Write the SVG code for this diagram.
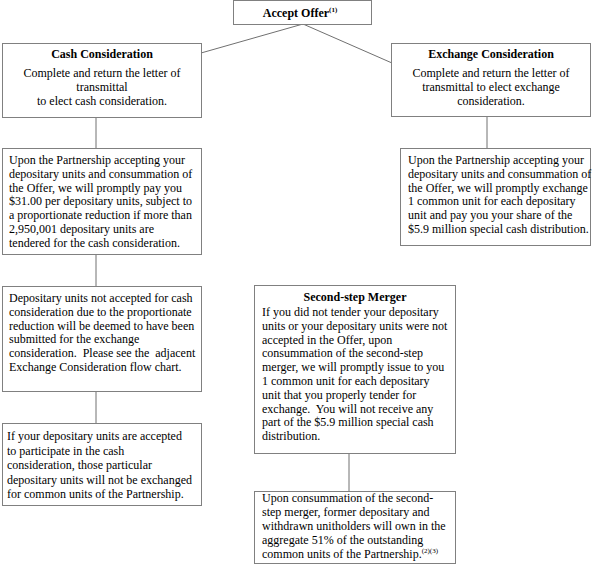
<svg xmlns="http://www.w3.org/2000/svg" width="593" height="572" viewBox="0 0 593 572">
<style>
.box{fill:#fff;stroke:#808080;stroke-width:1}
.ln{stroke:#707070;stroke-width:1;fill:none}
text{font-family:"Liberation Serif","Times New Roman",serif;font-size:12px;fill:#000}
.b{font-weight:bold}
.c{text-anchor:middle}
.sup{font-size:7px}
</style>
<rect width="593" height="572" fill="#fff"/>
<g id="connectors">
<line class="ln" x1="303" y1="24" x2="201" y2="53"/>
<line class="ln" x1="303" y1="24" x2="392" y2="63"/>
<line class="ln" x1="96" y1="117" x2="96" y2="148"/>
<line class="ln" x1="96" y1="254" x2="96" y2="286"/>
<line class="ln" x1="96" y1="391" x2="96" y2="423"/>
<line class="ln" x1="487" y1="116" x2="487" y2="148"/>
<line class="ln" x1="349" y1="453" x2="349" y2="491"/>
</g>
<g id="accept">
<rect class="box" x="233.5" y="0.5" width="138" height="24"/>
<text class="b c" x="300" y="17">Accept Offer<tspan class="sup" dy="-5">(1)</tspan></text>
</g>
<g id="cash">
<rect class="box" x="2.5" y="43.5" width="199" height="74"/>
<text class="b c" x="102" y="58">Cash Consideration</text>
<text class="c" x="102" y="77">Complete and return the letter of</text>
<text class="c" x="102" y="91">transmittal</text>
<text class="c" x="102" y="104.5">to elect cash consideration.</text>
</g>
<g id="exchange">
<rect class="box" x="391.5" y="43.5" width="199" height="73"/>
<text class="b c" x="491" y="58">Exchange Consideration</text>
<text class="c" x="491" y="77">Complete and return the letter of</text>
<text class="c" x="491" y="91">transmittal to elect exchange</text>
<text class="c" x="491" y="104.5">consideration.</text>
</g>
<g id="cash-pay">
<rect class="box" x="2.5" y="148.5" width="199" height="106"/>
<text x="9" y="164">Upon the Partnership accepting your</text>
<text x="9" y="177.8">depositary units and consummation of</text>
<text x="9" y="191.6">the Offer, we will promptly pay you</text>
<text x="9" y="205.4">$31.00 per depositary units, subject to</text>
<text x="9" y="219.2">a proportionate reduction if more than</text>
<text x="9" y="233">2,950,001 depositary units are</text>
<text x="9" y="246.8">tendered for the cash consideration.</text>
</g>
<g id="exchange-pay">
<rect class="box" x="400.5" y="148.5" width="190" height="97"/>
<text x="408" y="164">Upon the Partnership accepting your</text>
<text x="408" y="177.8">depositary units and consummation of</text>
<text x="408" y="191.6">the Offer, we will promptly exchange</text>
<text x="408" y="205.4">1 common unit for each depositary</text>
<text x="408" y="219.2">unit and pay you your share of the</text>
<text x="408" y="233">$5.9 million special cash distribution.</text>
</g>
<g id="not-accepted">
<rect class="box" x="2.5" y="286.5" width="199" height="105"/>
<text x="9" y="302">Depositary units not accepted for cash</text>
<text x="9" y="315.8">consideration due to the proportionate</text>
<text x="9" y="329.6">reduction will be deemed to have been</text>
<text x="9" y="343.4">submitted for the exchange</text>
<text x="9" y="357.2" xml:space="preserve">consideration.  Please see the  adjacent</text>
<text x="9" y="371">Exchange Consideration flow chart.</text>
</g>
<g id="accepted">
<rect class="box" x="2.5" y="423.5" width="199" height="82"/>
<text x="7" y="440">If your depositary units are accepted</text>
<text x="7" y="454.5">to participate in the cash</text>
<text x="7" y="469">consideration, those particular</text>
<text x="7" y="483.5">depositary units will not be exchanged</text>
<text x="7" y="498">for common units of the Partnership.</text>
</g>
<g id="merger">
<rect class="box" x="254.5" y="285.5" width="201" height="168"/>
<text class="b c" x="355" y="301">Second-step Merger</text>
<text x="262" y="316">If you did not tender your depositary</text>
<text x="262" y="329.8">units or your depositary units were not</text>
<text x="262" y="343.6">accepted in the Offer, upon</text>
<text x="262" y="357.4">consummation of the second-step</text>
<text x="262" y="371.2">merger, we will promptly issue to you</text>
<text x="262" y="385">1 common unit for each depositary</text>
<text x="262" y="398.8">unit that you properly tender for</text>
<text x="262" y="412.6" xml:space="preserve">exchange.  You will not receive any</text>
<text x="262" y="426.4">part of the $5.9 million special cash</text>
<text x="262" y="440.2">distribution.</text>
</g>
<g id="ownership">
<rect class="box" x="254.5" y="491.5" width="201" height="72"/>
<text x="262" y="502">Upon consummation of the second-</text>
<text x="262" y="516">step merger, former depositary and</text>
<text x="262" y="530">withdrawn unitholders will own in the</text>
<text x="262" y="544">aggregate 51% of the outstanding</text>
<text x="262" y="558">common units of the Partnership.<tspan class="sup" dy="-5">(2)(3)</tspan></text>
</g>
</svg>
